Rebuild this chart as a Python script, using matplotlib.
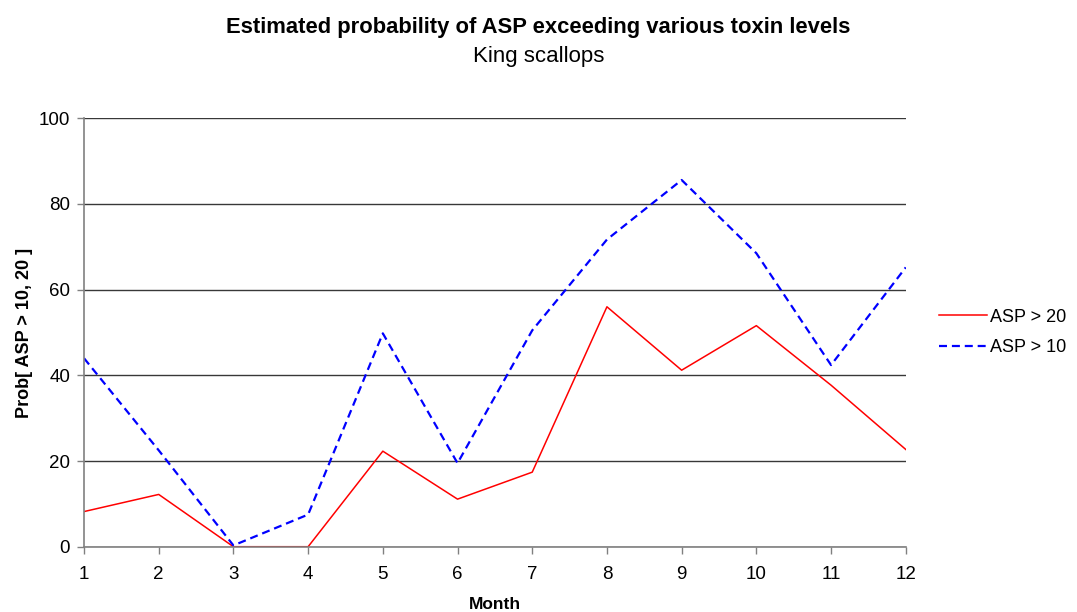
import matplotlib.pyplot as plt

plt.rcParams["font.family"] = ["Liberation Sans", "DejaVu Sans"]

months = list(range(1, 13))
asp_over_20 = [8.2, 12.2, 0, 0, 22.3, 11.1, 17.4, 56.0, 41.2, 51.6, 37.7, 22.7]
asp_over_10 = [44.0, 22.5, 0.3, 7.5, 49.8, 19.5, 50.5, 71.7, 85.6, 68.5, 42.4, 65.2]
y_ticks = [0, 20, 40, 60, 80, 100]


def draw_chart():

    fig = plt.figure(figsize=(10.77, 6.12), dpi=100)
    ax = fig.add_axes([0.078, 0.1067, 0.763, 0.700])

    ax.plot(months, asp_over_20, color="#ff0000", linewidth=1.1, label="ASP > 20")
    ax.plot(months, asp_over_10, color="#0000ff", linewidth=1.6,
            linestyle=(0, (3.6, 2.2)), label="ASP > 10")

    ax.set_xlim(1, 12)
    ax.set_ylim(0, 100)
    ax.set_xticks(months)
    ax.set_yticks(y_ticks)

    ax.grid(axis="y", color="#383838", linewidth=1.0)
    ax.set_axisbelow(True)
    for side in ["top", "right"]:
        ax.spines[side].set_visible(False)
    for side in ["left", "bottom"]:
        ax.spines[side].set_color("#808080")
        ax.spines[side].set_linewidth(1.2)

    ax.tick_params(direction="out", length=5, width=1, color="#808080",
                   labelsize=13.5)
    ax.tick_params(axis="x", pad=9)
    ax.tick_params(axis="y", pad=5)

    ax.set_xlabel("Month", fontsize=12.5, fontweight="bold", labelpad=10)
    ax.set_ylabel("Prob[ ASP > 10, 20 ]", fontsize=13, fontweight="bold",
                  labelpad=4)

    fig.text(0.5, 0.955, "Estimated probability of ASP exceeding various toxin levels",
             ha="center", va="center", fontsize=15.8, fontweight="bold")
    fig.text(0.5, 0.908, "King scallops", ha="center", va="center", fontsize=16)

    ax.legend(loc="center left", bbox_to_anchor=(1.04, 0.5), frameon=False,
              fontsize=13, handlelength=2.7, handletextpad=0.15, labelspacing=0.75,
              borderpad=0, borderaxespad=0)

    fig.savefig("out.png", dpi=100)
    plt.close(fig)


if __name__ == "__main__":
    draw_chart()
